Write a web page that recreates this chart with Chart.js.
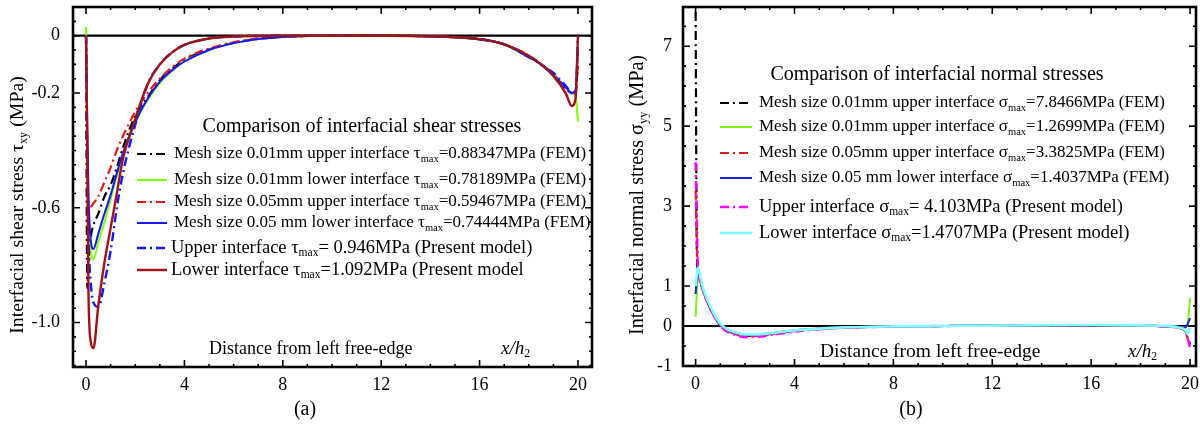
<!DOCTYPE html>
<html>
<head>
<meta charset="utf-8">
<script src="https://cdn.jsdelivr.net/npm/chart.js@4.4.0/dist/chart.umd.min.js"></script>
<style>
  body { margin: 0; background: #fff; }
  #wrap { position: relative; width: 1200px; height: 428px; }
  .panel { position: absolute; top: 0; width: 600px; height: 428px; }
</style>
</head>
<body>
<div id="wrap">
  <div class="panel" style="left:0"><canvas id="shearChart"></canvas></div>
  <div class="panel" style="left:600px"><canvas id="normalChart"></canvas></div>
</div>
<script>
// ---- data (a) shear stress ----
const shearX = [0, 0.05, 0.1, 0.2, 0.3, 0.5, 0.75, 1, 1.25, 1.5, 2, 2.5, 3, 3.5, 4, 5, 6, 7, 8, 10, 12, 14, 16, 17, 18, 18.5, 19, 19.5, 19.75, 19.9, 20];
const shearMesh001Upper = [0, -0.88, -0.80, -0.70, -0.66, -0.62, -0.56, -0.52, -0.46, -0.39, -0.28, -0.215, -0.155, -0.115, -0.085, -0.048, -0.025, -0.011, -0.004, 0, 0, -0.002, -0.012, -0.03, -0.075, -0.1, -0.135, -0.185, -0.2, -0.19, -0.1];
const shearMesh001Lower = [0.03, -0.40, -0.62, -0.76, -0.78, -0.72, -0.65, -0.57, -0.49, -0.42, -0.305, -0.225, -0.165, -0.122, -0.09, -0.05, -0.026, -0.012, -0.005, 0, 0, -0.002, -0.013, -0.03, -0.075, -0.1, -0.138, -0.18, -0.2, -0.21, -0.30];
const shearMesh005Upper = [0, -0.45, -0.58, -0.595, -0.585, -0.56, -0.51, -0.46, -0.40, -0.35, -0.265, -0.2, -0.15, -0.11, -0.08, -0.045, -0.023, -0.01, -0.004, 0, 0, -0.002, -0.012, -0.03, -0.07, -0.1, -0.135, -0.18, -0.2, -0.2, -0.1];
const shearMesh005Lower = [0, -0.30, -0.55, -0.72, -0.744, -0.69, -0.62, -0.555, -0.48, -0.41, -0.30, -0.22, -0.16, -0.12, -0.09, -0.05, -0.026, -0.012, -0.005, 0, 0, -0.002, -0.013, -0.03, -0.075, -0.1, -0.14, -0.18, -0.2, -0.19, -0.05];
const shearModelUpper = [0, -0.45, -0.70, -0.87, -0.93, -0.946, -0.86, -0.75, -0.60, -0.48, -0.31, -0.17, -0.1, -0.058, -0.032, -0.01, -0.003, -0.001, 0, 0, 0, -0.002, -0.012, -0.03, -0.07, -0.1, -0.13, -0.175, -0.2, -0.206, 0];
const shearModelLower = [0, -0.40, -0.90, -1.07, -1.09, -0.94, -0.79, -0.67, -0.55, -0.43, -0.29, -0.17, -0.1, -0.058, -0.032, -0.01, -0.003, -0.001, 0, 0, 0, -0.002, -0.012, -0.03, -0.07, -0.1, -0.14, -0.2, -0.245, -0.22, 0];
const shearXTicks = [0, 4, 8, 12, 16, 20];
const shearYTicks = [-1.0, -0.6, -0.2, 0];
const shearLabels = [
  'Mesh size 0.01mm upper interface τ_{max}=0.88347MPa (FEM)',
  'Mesh size 0.01mm lower interface τ_{max}=0.78189MPa (FEM)',
  'Mesh size 0.05mm upper interface τ_{max}=0.59467MPa (FEM)',
  'Mesh size 0.05 mm lower interface τ_{max}=0.74444MPa (FEM)',
  'Upper interface τ_{max}= 0.946MPa (Present model)',
  'Lower interface τ_{max}=1.092MPa (Present model'
];

// ---- data (b) normal stress ----
const normalX = [0, 0.05, 0.1, 0.2, 0.3, 0.5, 0.75, 1, 1.25, 1.5, 2, 2.5, 3, 4, 5, 6, 8, 10, 12, 14, 16, 18, 19, 19.5, 19.8, 19.9, 20];
const normalMesh001Upper = [7.85, 1.9, 1.35, 1.1, 0.88, 0.56, 0.25, 0.02, -0.1, -0.17, -0.25, -0.24, -0.2, -0.12, -0.07, -0.04, -0.012, 0, 0.01, 0.02, 0.02, 0.012, -0.01, -0.04, -0.12, -0.3, -0.45];
const normalMesh001Lower = [0.23, 0.82, 1.27, 1.1, 0.88, 0.56, 0.26, 0.04, -0.08, -0.15, -0.21, -0.21, -0.18, -0.11, -0.065, -0.035, -0.01, 0, 0.01, 0.02, 0.02, 0.012, -0.005, -0.02, -0.04, 0.05, 0.7];
const normalMesh005Upper = [3.38, 2.0, 1.35, 1.1, 0.88, 0.56, 0.25, 0.02, -0.1, -0.17, -0.25, -0.24, -0.2, -0.12, -0.07, -0.04, -0.012, 0, 0.01, 0.02, 0.02, 0.012, -0.01, -0.04, -0.12, -0.3, -0.5];
const normalMesh005Lower = [0.8, 1.2, 1.4, 1.15, 0.9, 0.58, 0.27, 0.04, -0.08, -0.15, -0.21, -0.21, -0.18, -0.11, -0.065, -0.035, -0.01, 0, 0.01, 0.02, 0.02, 0.012, -0.005, -0.02, -0.04, 0.05, 0.2];
const normalModelUpper = [4.1, 2.6, 1.4, 1.12, 0.9, 0.57, 0.25, 0.0, -0.13, -0.2, -0.28, -0.27, -0.23, -0.14, -0.08, -0.045, -0.013, 0, 0.01, 0.02, 0.02, 0.012, -0.01, -0.04, -0.12, -0.3, -0.55];
const normalModelLower = [1.0, 1.3, 1.47, 1.2, 0.95, 0.62, 0.3, 0.06, -0.07, -0.14, -0.21, -0.21, -0.18, -0.11, -0.065, -0.035, -0.01, 0, 0.01, 0.02, 0.025, 0.015, 0, -0.03, -0.1, -0.2, -0.05];
const normalXTicks = [0, 4, 8, 12, 16, 20];
const normalYTicks = [-1, 0, 1, 3, 5, 7];
const normalLabels = [
  'Mesh size 0.01mm upper interface σ_{max}=7.8466MPa (FEM)',
  'Mesh size 0.01mm upper interface σ_{max}=1.2699MPa (FEM)',
  'Mesh size 0.05mm upper interface σ_{max}=3.3825MPa (FEM)',
  'Mesh size 0.05 mm lower interface σ_{max}=1.4037MPa (FEM)',
  'Upper interface σ_{max}= 4.103MPa (Present model)',
  'Lower interface σ_{max}=1.4707MPa (Present model)'
];

const SERIF = '"Liberation Serif", "Times New Roman", serif';
Chart.defaults.font.family = SERIF;
Chart.defaults.color = '#000';

// "_{..}" = subscript, "*..*" = italic
function parseRich(str) {
  const parts = [];
  const re = /_\{([^}]*)\}|\*([^*]*)\*/g;
  let last = 0, m;
  while ((m = re.exec(str))) {
    if (m.index > last) parts.push([str.slice(last, m.index), 'n']);
    if (m[1] !== undefined) parts.push([m[1], 'sub']);
    else parts.push([m[2], 'i']);
    last = re.lastIndex;
  }
  if (last < str.length) parts.push([str.slice(last), 'n']);
  return parts;
}

function fontFor(style, size) {
  if (style === 'sub') return (size * 0.62).toFixed(1) + 'px ' + SERIF;
  if (style === 'i') return 'italic ' + size + 'px ' + SERIF;
  return size + 'px ' + SERIF;
}

function drawRich(ctx, str, x, y, size, align) {
  const parts = parseRich(str);
  let total = 0;
  parts.forEach(p => {
    ctx.font = fontFor(p[1], size);
    p.w = ctx.measureText(p[0]).width;
    total += p.w;
  });
  let cx = align === 'center' ? x - total / 2 : x;
  ctx.textAlign = 'left';
  ctx.textBaseline = 'middle';
  ctx.fillStyle = '#000';
  parts.forEach(p => {
    ctx.font = fontFor(p[1], size);
    ctx.fillText(p[0], cx, p[1] === 'sub' ? y + size * 0.28 : y);
    cx += p.w;
  });
}

const paperFrame = {
  id: 'paperFrame',
  beforeDatasetsDraw(chart) {
    const { ctx, chartArea: a, scales: { y } } = chart;
    const y0 = y.getPixelForValue(0);
    ctx.save();
    ctx.strokeStyle = '#000';
    ctx.lineWidth = 2.2;
    ctx.beginPath();
    ctx.moveTo(a.left, y0);
    ctx.lineTo(a.right, y0);
    ctx.stroke();
    ctx.restore();
  },
  afterDraw(chart, args, opts) {
    const { ctx, chartArea: a, scales: { x, y } } = chart;
    ctx.save();
    ctx.strokeStyle = '#000';
    ctx.lineWidth = 1.6;
    ctx.beginPath();
    const xt = (v, len) => {
      const px = x.getPixelForValue(v);
      ctx.moveTo(px, a.bottom); ctx.lineTo(px, a.bottom - len);
      ctx.moveTo(px, a.top); ctx.lineTo(px, a.top + len);
    };
    const yt = (v, len) => {
      const py = y.getPixelForValue(v);
      ctx.moveTo(a.left, py); ctx.lineTo(a.left + len, py);
      ctx.moveTo(a.right, py); ctx.lineTo(a.right - len, py);
    };
    for (let k = Math.ceil(x.min / opts.xMinor); k * opts.xMinor <= x.max; k++) xt(k * opts.xMinor, 3);
    for (let k = Math.ceil(y.min / opts.yMinor); k * opts.yMinor <= y.max; k++) yt(k * opts.yMinor, 3);
    x.ticks.forEach(t => xt(t.value, 7));
    y.ticks.forEach(t => yt(t.value, 7));
    ctx.stroke();

    ctx.lineWidth = 2.6;
    ctx.strokeRect(a.left, a.top, a.right - a.left, a.bottom - a.top);

    // legend
    const lg = opts.legend;
    drawRich(ctx, lg.title, lg.tx, lg.ty, lg.tsize, 'center');
    chart.data.datasets.forEach((ds, i) => {
      const ly = lg.rows[i];
      ctx.save();
      ctx.strokeStyle = ds.borderColor;
      ctx.lineWidth = ds.borderWidth;
      ctx.setLineDash(ds.borderDash || []);
      ctx.beginPath();
      ctx.moveTo(lg.x0, ly);
      ctx.lineTo(lg.x1, ly);
      ctx.stroke();
      ctx.restore();
      drawRich(ctx, ds.label, lg.textX[i], ly, lg.sizes[i], 'left');
    });

    // extra texts
    opts.texts.forEach(t => {
      if (t.rot) {
        ctx.save();
        ctx.translate(t.x, t.y);
        ctx.rotate(-Math.PI / 2);
        drawRich(ctx, t.t, 0, 0, t.size, 'center');
        ctx.restore();
      } else {
        drawRich(ctx, t.t, t.x, t.y, t.size, t.align);
      }
    });
    ctx.restore();
  }
};

const dashDot = [9, 4, 2, 4];

function series(xs, ys, label, color, dash, width, order) {
  return {
    label: label,
    data: xs.map((x, i) => ({ x: x, y: ys[i] })),
    borderColor: color,
    backgroundColor: color,
    borderDash: dash,
    borderWidth: width,
    pointRadius: 0,
    cubicInterpolationMode: 'monotone',
    fill: false,
    order: order
  };
}

// the plot box is placed by layout padding + fixed axis sizes, so drop Chart.js label padding
function noPad(s) {
  s.paddingTop = 0; s.paddingBottom = 0; s.paddingLeft = 0; s.paddingRight = 0;
}

function makeScales(xr, yr, xTicks, yTicks, yWidth, xHeight, yPad, yFmt) {
  return {
    x: {
      type: 'linear', min: xr[0], max: xr[1],
      grid: { display: false, drawTicks: false },
      border: { display: false },
      afterBuildTicks: s => { s.ticks = xTicks.map(v => ({ value: v })); },
      afterFit: s => { s.height = xHeight; noPad(s); },
      ticks: { padding: 7, font: { size: 18 }, maxRotation: 0, autoSkip: false }
    },
    y: {
      type: 'linear', min: yr[0], max: yr[1],
      grid: { display: false, drawTicks: false },
      border: { display: false },
      afterBuildTicks: s => { s.ticks = yTicks.map(v => ({ value: v })); },
      afterFit: s => { s.width = yWidth; noPad(s); },
      ticks: { padding: yPad, font: { size: 18 }, autoSkip: false, callback: yFmt }
    }
  };
}

const shearChart = new Chart(document.getElementById('shearChart'), {
  type: 'line',
  data: {
    datasets: [
      series(shearX, shearMesh001Upper, shearLabels[0], '#000000', dashDot, 2.2, 5),
      series(shearX, shearMesh001Lower, shearLabels[1], '#80ff00', [], 2, 4),
      series(shearX, shearMesh005Upper, shearLabels[2], '#e01818', dashDot, 2.2, 3),
      series(shearX, shearMesh005Lower, shearLabels[3], '#1414ff', [], 2, 2),
      series(shearX, shearModelUpper, shearLabels[4], '#1414ff', dashDot, 2.4, 1),
      series(shearX, shearModelLower, shearLabels[5], '#9e1414', [], 2.4, 0)
    ]
  },
  options: {
    responsive: true,
    maintainAspectRatio: false,
    animation: false,
    layout: { padding: { top: 7, right: 8, left: 0, bottom: 0 } },
    scales: makeScales([-0.53, 20.57], [-1.155, 0.1], shearXTicks, shearYTicks, 73, 61, 13,
      v => (v === 0 ? '0' : v.toFixed(1))),
    plugins: {
      legend: { display: false },
      tooltip: { enabled: false },
      paperFrame: {
        xMinor: 1, yMinor: 0.05,
        legend: {
          title: 'Comparison of interfacial shear stresses', tx: 362, ty: 127, tsize: 20,
          rows: [154, 180, 202, 223, 248, 270], x0: 137, x1: 167,
          textX: [174, 174, 174, 174, 171, 171], sizes: [17, 17, 17, 17, 18.5, 18.5]
        },
        texts: [
          { t: 'Interfacial shear stress τ_{xy} (MPa)', x: 18, y: 205, size: 19.8, rot: true },
          { t: 'Distance from left free-edge', x: 209, y: 349, size: 18 },
          { t: '*x/h*_{2}', x: 501, y: 349, size: 19 },
          { t: '(a)', x: 305, y: 410, size: 20, align: 'center' }
        ]
      }
    }
  },
  plugins: [paperFrame]
});

const normalChart = new Chart(document.getElementById('normalChart'), {
  type: 'line',
  data: {
    datasets: [
      series(normalX, normalMesh001Upper, normalLabels[0], '#000000', dashDot, 2.2, 5),
      series(normalX, normalMesh001Lower, normalLabels[1], '#80f020', [], 2, 4),
      series(normalX, normalMesh005Upper, normalLabels[2], '#d42020', dashDot, 2.2, 3),
      series(normalX, normalMesh005Lower, normalLabels[3], '#2020e0', [], 2, 2),
      series(normalX, normalModelUpper, normalLabels[4], '#ff00ff', dashDot, 2.4, 1),
      series(normalX, normalModelLower, normalLabels[5], '#80ffff', [], 2.6, 0)
    ]
  },
  options: {
    responsive: true,
    maintainAspectRatio: false,
    animation: false,
    layout: { padding: { top: 7, right: 4, left: 0, bottom: 0 } },
    scales: makeScales([-0.51, 20.24], [-1, 7.98], normalXTicks, normalYTicks, 83, 62, 11,
      v => String(v)),
    plugins: {
      legend: { display: false },
      tooltip: { enabled: false },
      paperFrame: {
        xMinor: 1, yMinor: 0.5,
        legend: {
          title: 'Comparison of interfacial normal stresses', tx: 337, ty: 75, tsize: 20,
          rows: [103, 127, 153, 178, 207, 233], x0: 120, x1: 152,
          textX: [159, 159, 159, 159, 159, 159], sizes: [17, 17, 17, 17, 18.5, 18.5]
        },
        texts: [
          { t: 'Interfacial normal stress σ_{yy} (MPa)', x: 38, y: 195, size: 20.2, rot: true },
          { t: 'Distance from left free-edge', x: 220, y: 352, size: 19.5 },
          { t: '*x/h*_{2}', x: 528, y: 352, size: 19 },
          { t: '(b)', x: 311, y: 410, size: 20, align: 'center' }
        ]
      }
    }
  },
  plugins: [paperFrame]
});
</script>
</body>
</html>
